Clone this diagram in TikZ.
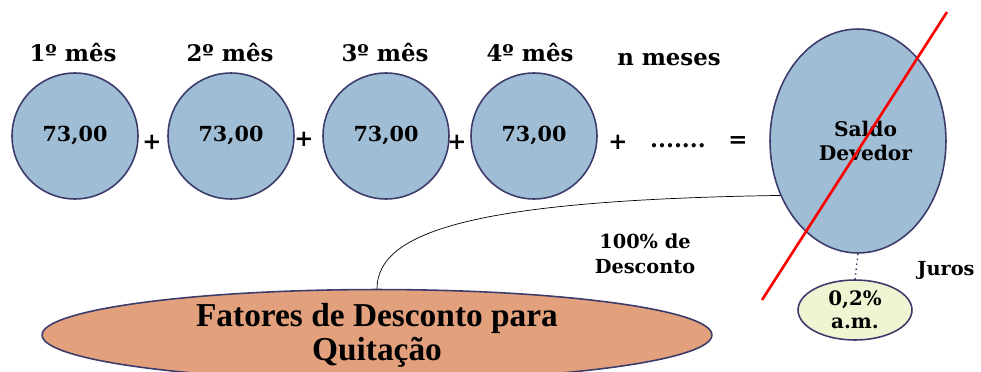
\documentclass[tikz,border=0pt]{standalone}
\usepackage{fontspec}
\setmainfont{DejaVu Serif}
\newfontfamily\fatfont{Liberation Serif}
\usetikzlibrary{shapes.geometric}
\definecolor{bolaazul}{RGB}{159,189,212}
\definecolor{bordaazul}{RGB}{60,60,108}
\definecolor{salmao}{RGB}{226,160,124}
\definecolor{creme}{RGB}{239,245,210}
\tikzset{
  parcela/.style={circle, draw=bordaazul, fill=bolaazul, line width=0.9pt, minimum size=2.52cm, inner sep=0pt, font=\bfseries\fontsize{11.8}{13}\selectfont},
  rotulo/.style={font=\bfseries\fontsize{13}{15}\selectfont},
  sinal/.style={font=\bfseries\fontsize{13}{15}\selectfont},
  texto/.style={align=center, font=\bfseries\fontsize{11}{14}\selectfont}
}
\begin{document}
\begin{tikzpicture}[x=0.02cm, y=-0.02cm]
\useasboundingbox (0,0) rectangle (981,372);
% parcelas mensais
\node [parcela] (p1) at (75,136) {73,00};
\node [parcela] (p2) at (231,136) {73,00};
\node [parcela] (p3) at (386,136) {73,00};
\node [parcela] (p4) at (534,136) {73,00};
\node [rotulo] (m1) at (73,53) {1º mês};
\node [rotulo] (m2) at (230,53) {2º mês};
\node [rotulo] (m3) at (385,53) {3º mês};
\node [rotulo] (m4) at (530,53) {4º mês};
\node [rotulo] (mn) at (669,60) {n meses};
\node [sinal] (s1) at (152,142) {+};
\node [sinal] (s2) at (304,139) {+};
\node [sinal] (s3) at (457,142) {+};
\node [sinal] (s4) at (618,142) {+};
\node [sinal] (pontos) at (678,146) {.......};
\node [sinal] (igual) at (738,142) {=};
% saldo devedor
\node [ellipse, draw=bordaazul, fill=bolaazul, line width=0.9pt, minimum width=3.52cm, minimum height=4.48cm, inner sep=0pt, align=center, font=\bfseries\fontsize{11.5}{14}\selectfont] (saldo) at (858,141) {\hspace*{0.3cm}Saldo\\ \hspace*{0.3cm}Devedor};
\node [ellipse, draw=bordaazul, fill=creme, line width=0.9pt, minimum width=2.28cm, minimum height=1.2cm, inner sep=0pt, align=center, font=\bfseries\fontsize{11.3}{13}\selectfont] (taxa) at (855,310) {0,2\%\\a.m.};
\node [texto] (juros) at (946,270) {Juros};
\draw [bordaazul, dotted, line width=0.8pt] (saldo.south) -- (taxa.north);
\coordinate (risco1) at (762,300);
\coordinate (risco2) at (947,12);
\draw [red, line width=1.5pt] (risco1) -- (risco2);
% fatores de desconto
\node [ellipse, draw=bordaazul, fill=salmao, line width=0.9pt, minimum width=13.4cm, minimum height=1.6cm, inner sep=0pt, align=center, font=\fatfont\bfseries\fontsize{19}{19.5}\selectfont] (fatores) at (377,335) {Fatores de Desconto para\\Quitação};
\node [texto] (desconto) at (645,254) {100\% de\\Desconto};
\draw [black, line width=0.4pt] (fatores.north) .. controls (377,230) and (480,200) .. (saldo.215);
\end{tikzpicture}
\end{document}
